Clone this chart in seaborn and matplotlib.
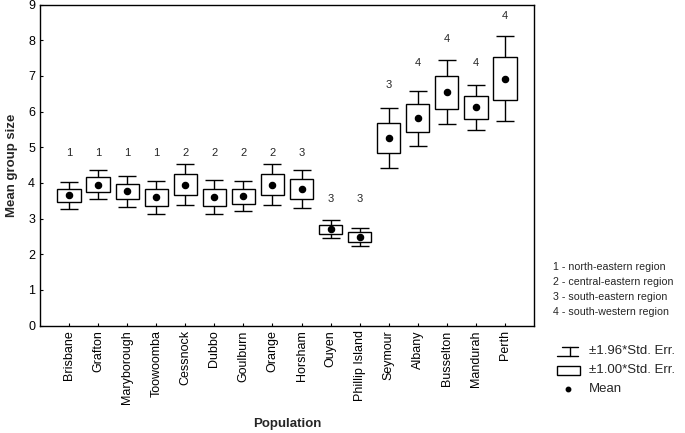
import numpy as np
import pandas as pd
import matplotlib
matplotlib.use("Agg")
import matplotlib.pyplot as plt
import seaborn as sns
from matplotlib.lines import Line2D
from matplotlib.patches import Rectangle

# data
populations = ["Brisbane", "Grafton", "Maryborough", "Toowoomba", "Cessnock", "Dubbo",
               "Goulburn", "Orange", "Horsham", "Ouyen", "Phillip Island", "Seymour",
               "Albany", "Busselton", "Mandurah", "Perth"]
means = [3.65, 3.95, 3.76, 3.59, 3.95, 3.60, 3.63, 3.95, 3.83, 2.70, 2.48,
         5.26, 5.81, 6.54, 6.12, 6.92]
std_err = [0.19, 0.21, 0.22, 0.24, 0.29, 0.24, 0.21, 0.29, 0.27, 0.13, 0.13,
           0.43, 0.39, 0.46, 0.32, 0.61]
regions = [1, 1, 1, 1, 2, 2, 2, 2, 3, 3, 3, 3, 4, 4, 4, 4]
region_names = ["north-eastern region", "central-eastern region",
                "south-eastern region", "south-western region"]
label_y = [4.85, 4.85, 4.85, 4.85, 4.85, 4.85, 4.85, 4.85, 4.85, 3.55, 3.55,
           6.75, 7.37, 8.04, 7.37, 8.67]

data = pd.DataFrame({"Population": populations, "Mean": means, "SE": std_err})

sns.set_style("ticks")
plt.rcParams["font.family"] = ["Liberation Sans", "DejaVu Sans"]

W, H = 685, 433
fig, ax = plt.subplots(figsize=(W / 100, H / 100), dpi=100)
fig.subplots_adjust(left=40 / W, right=534 / W, top=1 - 4.5 / H, bottom=1 - 325.5 / H)

# means (also sets up the categorical axis)
sns.pointplot(data=data, x="Population", y="Mean", linestyle="none", color="black",
              markers="o", markersize=3.4, errorbar=None, ax=ax, zorder=4)

pos = np.arange(len(populations))
m = data["Mean"].to_numpy()
se = data["SE"].to_numpy()
# whiskers +-1.96 SE
ax.errorbar(pos, m, yerr=1.96 * se, fmt="none", ecolor="black", elinewidth=1,
            capsize=6.8, capthick=1, zorder=1)
# boxes +-1 SE
ax.bar(pos, 2 * se, bottom=m - se, width=0.8, facecolor="white", edgecolor="black",
       linewidth=1, zorder=2)

for i, r in enumerate(regions):
    ax.text(i, label_y[i], str(r), ha="center", va="center", fontsize=8)

ax.set_xlim(-1, 16)
ax.set_ylim(0, 9)
ax.set_yticks(range(10))
ax.tick_params(direction="in", length=2, width=0.8, labelsize=9, colors="black")
ax.tick_params(axis="x", labelrotation=90)
for s in ax.spines.values():
    s.set_linewidth(1)
    s.set_color("black")
ax.set_xlabel("Population", fontsize=9.5, fontweight="bold", labelpad=10)
ax.set_ylabel("Mean group size", fontsize=9.5, fontweight="bold", labelpad=7)

# region key
def fx(px):
    return px / W

def fy(py):
    return 1 - py / H

for k, name in enumerate(region_names):
    fig.text(fx(553), fy(267 + 15 * k), f"{k + 1} - {name}", fontsize=7.7,
             ha="left", va="center")

# symbol key
fig.add_artist(Line2D([fx(562), fx(578)], [fy(347), fy(347)], color="black", lw=1))
fig.add_artist(Line2D([fx(570), fx(570)], [fy(347), fy(356)], color="black", lw=1))
fig.add_artist(Line2D([fx(557), fx(578)], [fy(356), fy(356)], color="black", lw=1))
fig.add_artist(Rectangle((fx(557), fy(375)), fx(23), 9 / H, transform=fig.transFigure,
                         facecolor="white", edgecolor="black", lw=1))
fig.add_artist(Line2D([fx(568)], [fy(389)], marker="o", markersize=3.2, color="black",
                      linestyle="none"))
fig.text(fx(589), fy(351), "±1.96*Std. Err.", fontsize=9.5, va="center")
fig.text(fx(589), fy(370), "±1.00*Std. Err.", fontsize=9.5, va="center")
fig.text(fx(589), fy(389), "Mean", fontsize=9.5, va="center")

plt.savefig("out.png", dpi=100)
